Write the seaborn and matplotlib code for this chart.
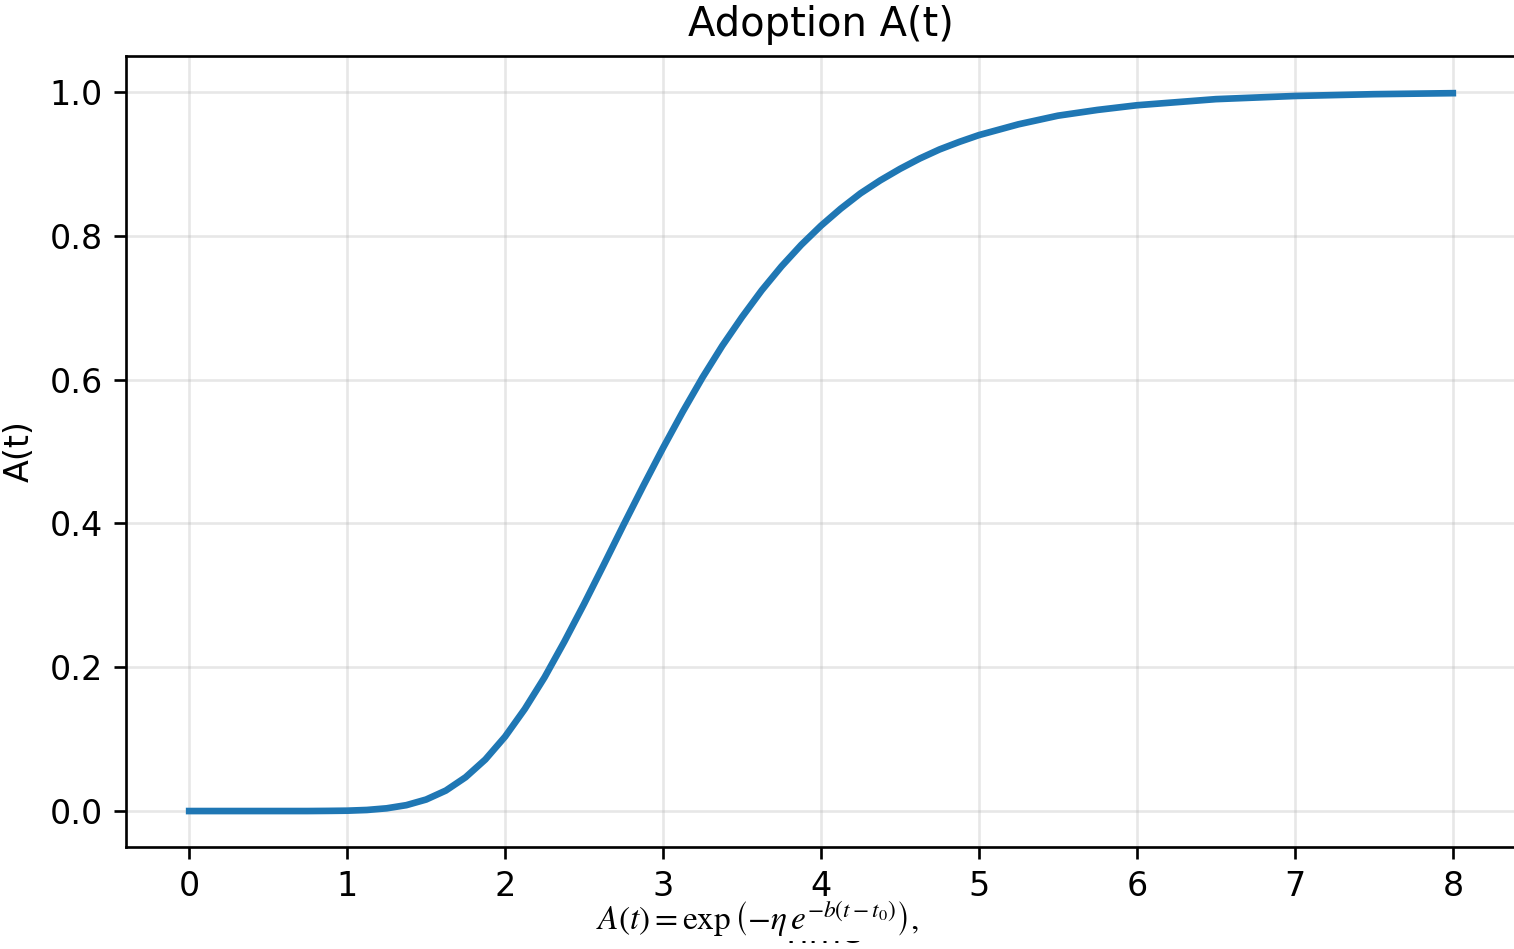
import numpy as np
import pandas as pd
import matplotlib
matplotlib.use("Agg")
import matplotlib.pyplot as plt
import seaborn as sns

# Values
t_values = [0.0, 0.25, 0.5, 0.75, 0.875, 1.0, 1.125, 1.25, 1.375, 1.5, 1.625,
            1.75, 1.875, 2.0, 2.125, 2.25, 2.375, 2.5, 2.625, 2.75, 2.875,
            3.0, 3.125, 3.25, 3.375, 3.5, 3.625, 3.75, 3.875, 4.0, 4.125,
            4.25, 4.375, 4.5, 4.625, 4.75, 4.875, 5.0, 5.25, 5.5, 5.75,
            6.0, 6.5, 7.0, 7.5, 8.0]
adoption = [0.0, 0.0, 0.0, 0.0, 0.0002, 0.0005, 0.0015, 0.0038, 0.0082, 0.016,
            0.0285, 0.047, 0.0717, 0.1035, 0.142, 0.186, 0.2355, 0.288, 0.3426,
            0.398, 0.4522, 0.505, 0.5554, 0.603, 0.647, 0.687, 0.7242, 0.7575,
            0.7874, 0.814, 0.8377, 0.859, 0.877, 0.893, 0.9074, 0.920, 0.9305,
            0.940, 0.955, 0.967, 0.975, 0.9815, 0.990, 0.9944, 0.9969, 0.9983]
x_ticks = [0, 1, 2, 3, 4, 5, 6, 7, 8]
y_ticks = [0.0, 0.2, 0.4, 0.6, 0.8, 1.0]

df = pd.DataFrame({"t": t_values, "A": adoption})

DPI = 240
fig = plt.figure(figsize=(1514 / DPI, 949 / DPI), dpi=DPI)
ax = fig.add_axes([126 / 1514, (949 - 847) / 949, (1516 - 126) / 1514, (847 - 56) / 949])

sns.lineplot(data=df, x="t", y="A", ax=ax, color="#1f77b4", linewidth=2.0)

ax.set_xlim(-0.4, 8.4)
ax.set_ylim(-0.05, 1.05)
ax.set_xticks(x_ticks)
ax.set_yticks(y_ticks)
ax.set_xticklabels([str(v) for v in x_ticks])
ax.set_yticklabels([f"{v:.1f}" for v in y_ticks])
ax.grid(True, alpha=0.3)
ax.set_title("Adoption A(t)")
ax.set_xlabel("Time")
ax.set_ylabel("A(t)")

plt.rcParams["mathtext.fontset"] = "stix"
fig.text(0.5, 0.02, r"$A(t) = \exp\left(-\eta\, e^{-b(t-t_0)}\right),$",
         ha="center", va="baseline", fontsize=10, family="serif",
         bbox=dict(facecolor="white", edgecolor="none", pad=0.5))

fig.savefig("out.png", dpi=DPI)
